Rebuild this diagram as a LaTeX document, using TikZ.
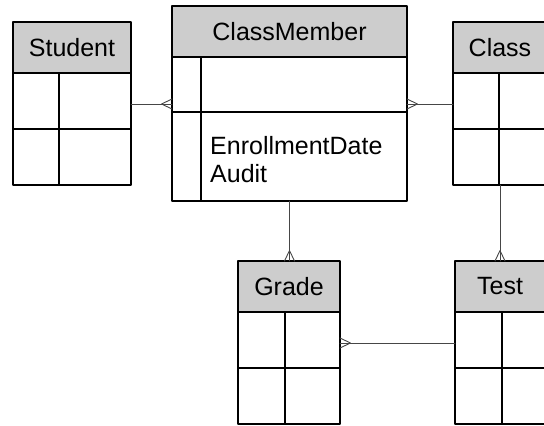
\documentclass[tikz,border=0pt]{standalone}
\usepackage{fontspec}
\setmainfont{Liberation Sans}
\usetikzlibrary{positioning,calc}

\definecolor{headgray}{RGB}{205,205,205}
\definecolor{linkgray}{RGB}{70,70,70}

\tikzset{
  head/.style={draw, fill=headgray, line width=1.3pt, minimum width=118pt,
    minimum height=51pt, inner sep=0pt, outer sep=0pt,
    font=\fontsize{25}{28}\selectfont},
  body/.style={draw, line width=1.3pt, minimum width=118pt,
    minimum height=112pt, inner sep=0pt, outer sep=0pt},
  link/.style={draw=linkgray, line width=0.9pt},
}

% crow's foot at #2, line coming from #1
\newcommand\crowfoot[2]{%
  \draw[link] ($(#2)!5pt!90:(#1)$) -- ($(#2)!10.5pt!(#1)$) -- ($(#2)!5pt!-90:(#1)$);}

\begin{document}
\begin{tikzpicture}[x=1pt, y=-1pt, line cap=round, line join=round]
\useasboundingbox (0,0) rectangle (544,426);
\clip (0,0) rectangle (544,426);

% ----------------------------
% TABLES
% ----------------------------
\node[head] (student-h) at (72,47.5) {Student};
\node[body, below=0pt of student-h] (student) {};

\node[head, minimum width=235pt] (cm-h) at (289.5,31.5) {ClassMember};
\node[body, minimum width=235pt, minimum height=144pt, below=0pt of cm-h] (cm) {};

\node[head, minimum width=94pt] (class-h) at (500,47.5) {Class};
\node[body, minimum width=94pt, below=0pt of class-h] (class) {};

\node[head, minimum width=102pt] (grade-h) at (289,286.5) {Grade};
\node[body, minimum width=102pt, below=0pt of grade-h] (grade) {};

\node[head, minimum width=90pt] (test-h) at (500,286.5) {Test};
\node[body, minimum width=90pt, below=0pt of test-h] (test) {};

% ----------------------------
% ROWS AND COLUMNS
% ----------------------------
\foreach \t/\k in {student/46, class/46, grade/47, test/47} {
  \draw[line width=1.3pt] (\t.west) -- (\t.east);
  \draw[line width=1.3pt] ([xshift=\k pt]\t.north west) -- ([xshift=\k pt]\t.south west);
}
\draw[line width=1.3pt] ([yshift=-55pt]cm.north west) -- ([yshift=-55pt]cm.north east);
\draw[line width=1.3pt] ([xshift=29pt]cm.north west) -- ([xshift=29pt]cm.south west);

\node[anchor=north west, inner sep=0pt, align=left,
  font=\fontsize{25}{28}\selectfont] (cm-attr) at (210,136) {EnrollmentDate\\Audit};

% ----------------------------
% CONNECTORS
% ----------------------------
\coordinate (s-out) at ([yshift=25pt]student.east);
\coordinate (cm-in1) at ([yshift=25pt]cm.west);
\coordinate (c-out) at ([yshift=25pt]class.west);
\coordinate (cm-in2) at ([yshift=25pt]cm.east);
\coordinate (g-in1) at (cm.south |- grade-h.north);
\coordinate (c-down) at ([xshift=47pt]class.south west);
\coordinate (t-in) at (c-down |- test-h.north);
\coordinate (t-out) at ([yshift=25pt]test.west);
\coordinate (g-in2) at ([yshift=25pt]grade.east);

\draw[link] (s-out) -- (cm-in1);
\crowfoot{s-out}{cm-in1}
\draw[link] (c-out) -- (cm-in2);
\crowfoot{c-out}{cm-in2}
\draw[link] (cm.south) -- (g-in1);
\crowfoot{cm.south}{g-in1}
\draw[link] (c-down) -- (t-in);
\crowfoot{c-down}{t-in}
\draw[link] (t-out) -- (g-in2);
\crowfoot{t-out}{g-in2}

\end{tikzpicture}
\end{document}
